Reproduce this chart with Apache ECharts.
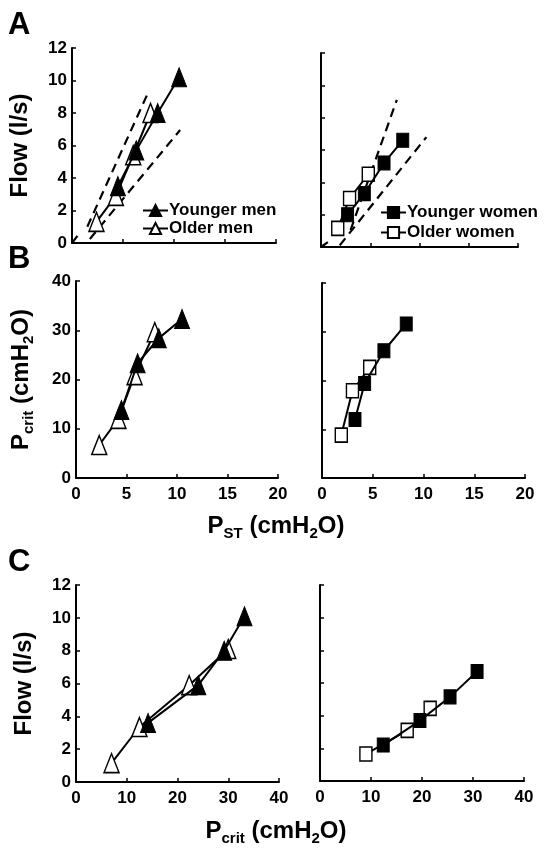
<!DOCTYPE html>
<html>
<head>
<meta charset="utf-8">
<script src="https://cdn.jsdelivr.net/npm/echarts@6/dist/echarts.min.js"></script>
<style>
  html, body { margin: 0; padding: 0; background: #fff; }
  #main { width: 552px; height: 849px; }
</style>
</head>
<body>
<div id="main"></div>
<script>
// A: P_ST (x) vs flow (y)
var youngMenA = [[4.5, 3.5], [6.3, 5.7], [8.4, 8.0], [10.5, 10.2]];
var oldMenA = [[2.4, 1.3], [4.3, 2.9], [6.0, 5.4], [7.7, 8.0]];
var youngWomenA = [[2.7, 2.0], [4.4, 3.3], [6.4, 5.2], [8.3, 6.6]];
var oldWomenA = [[1.7, 1.15], [2.9, 3.0], [4.8, 4.5]];
// dashed reference lines in A
var dashMenA = [
  [[1.5, 1.0], [7.35, 9.1]],
  [[1.75, 0.25], [10.6, 6.95]],
  [[0, 0], [0.55, 0.45]]
];
var dashWomenA = [
  [[3.0, 1.05], [7.7, 9.1]],
  [[1.9, 0.1], [10.7, 6.8]],
  [[0, 0], [0.7, 0.3]]
];
// B: P_ST (x) vs Pcrit (y)
var youngMenB = [[4.5, 13.8], [6.1, 23.3], [8.2, 28.4], [10.5, 32.3]];
var oldMenB = [[2.3, 6.7], [4.2, 12.0], [5.8, 20.9], [7.8, 29.6]];
var youngWomenB = [[3.25, 12.0], [4.2, 19.4], [6.1, 26.1], [8.3, 31.6]];
var oldWomenB = [[1.9, 8.8], [3.0, 17.9], [4.7, 22.7]];
// C: Pcrit (x) vs flow (y)
var youngMenC = [[14.2, 3.6], [24.1, 5.9], [29.2, 8.0], [33.2, 10.1]];
var oldMenC = [[7.0, 1.15], [12.5, 3.35], [22.3, 5.9], [30.0, 8.1]];
var youngWomenC = [[12.4, 2.2], [19.6, 3.7], [25.5, 5.15], [30.8, 6.7]];
var oldWomenC = [[9.0, 1.65], [17.1, 3.1], [21.6, 4.45]];

var legendMen = ['Younger men', 'Older men'];
var legendWomen = ['Younger women', 'Older women'];

var FONT = 'Liberation Sans, Arial, Helvetica, sans-serif';
var chart = echarts.init(document.getElementById('main'));

var grids = [
  { left: 72, top: 48, width: 204, height: 195 },   // A left
  { left: 321, top: 53, width: 197, height: 194 },  // A right
  { left: 76, top: 281, width: 202, height: 197 },  // B left
  { left: 322, top: 283, width: 203, height: 195 }, // B right
  { left: 76, top: 585, width: 203, height: 197 },  // C left
  { left: 320, top: 585, width: 204, height: 196 }  // C right
];

var richName = {
  p: { fontSize: 24, fontWeight: 'bold', fontFamily: FONT, color: '#000', lineHeight: 30 },
  s: { fontSize: 15, fontWeight: 'bold', fontFamily: FONT, color: '#000', verticalAlign: 'bottom' }
};

function makeX(gi, max, interval, labels) {
  return {
    type: 'value', gridIndex: gi, min: 0, max: max, interval: interval,
    axisLine: { lineStyle: { color: '#000', width: 2 } },
    axisTick: { inside: true, length: 4, lineStyle: { color: '#000', width: 1.5 } },
    splitLine: { show: false },
    axisLabel: { show: labels, color: '#000', fontSize: 17, fontWeight: 'bold', fontFamily: FONT, margin: 8 }
  };
}

function makeY(gi, max, interval, labels, name, gap) {
  return {
    type: 'value', gridIndex: gi, min: 0, max: max, interval: interval,
    axisLine: { show: true, lineStyle: { color: '#000', width: 2 } },
    axisTick: { show: true, inside: true, length: 4, lineStyle: { color: '#000', width: 1.5 } },
    splitLine: { show: false },
    axisLabel: { show: labels, color: '#000', fontSize: 17, fontWeight: 'bold', fontFamily: FONT, margin: 5 },
    name: name || '',
    nameLocation: 'middle',
    nameRotate: 90,
    nameGap: gap || 30,
    nameTextStyle: { rich: richName }
  };
}

function marks(name, data, gi, symbol, filled) {
  var size = symbol === 'triangle' ? [15, 19] : [12, 14];
  return {
    name: name, type: 'line', data: data,
    xAxisIndex: gi, yAxisIndex: gi,
    symbol: symbol, symbolSize: size,
    lineStyle: { color: '#000', width: 2 },
    itemStyle: filled
      ? { color: '#000', borderColor: '#000', borderWidth: 1 }
      : { color: '#fff', borderColor: '#000', borderWidth: 1.5 },
    z: filled ? 4 : 3
  };
}

function dashes(list, gi) {
  return list.map(function (d) {
    return {
      type: 'line', data: d, xAxisIndex: gi, yAxisIndex: gi,
      symbol: 'none', silent: true,
      lineStyle: { color: '#000', width: 2.2, type: [9, 6] },
      z: 2
    };
  });
}

var series = []
  .concat(dashes(dashMenA, 0))
  .concat(dashes(dashWomenA, 1))
  .concat([
    marks('Older men', oldMenA, 0, 'triangle', false),
    marks('Younger men', youngMenA, 0, 'triangle', true),
    marks('Older women', oldWomenA, 1, 'rect', false),
    marks('Younger women', youngWomenA, 1, 'rect', true),
    marks('Older men', oldMenB, 2, 'triangle', false),
    marks('Younger men', youngMenB, 2, 'triangle', true),
    marks('Older women', oldWomenB, 3, 'rect', false),
    marks('Younger women', youngWomenB, 3, 'rect', true),
    marks('Older men', oldMenC, 4, 'triangle', false),
    marks('Younger men', youngMenC, 4, 'triangle', true),
    marks('Older women', oldWomenC, 5, 'rect', false),
    marks('Younger women', youngWomenC, 5, 'rect', true)
  ]);

function letter(txt, top) {
  return { text: txt, left: 8, top: top, padding: 0,
    textStyle: { fontSize: 31, fontWeight: 'bold', fontFamily: FONT, color: '#000' } };
}

var option = {
  animation: false,
  backgroundColor: '#fff',
  title: [
    letter('A', 10),
    letter('B', 244),
    letter('C', 547),
    {
      text: '{p|P}{s|ST}{p| (cmH}{s|2}{p|O)}', left: 'center', top: 511, padding: 0,
      textStyle: { rich: richName }
    },
    {
      text: '{p|P}{s|crit}{p| (cmH}{s|2}{p|O)}', left: 'center', top: 816, padding: 0,
      textStyle: { rich: richName }
    }
  ],
  legend: [
    {
      data: legendMen, orient: 'vertical', left: 142, top: 202, padding: 0,
      itemGap: 1, itemWidth: 25, itemHeight: 14, selectedMode: false,
      textStyle: { fontSize: 17, fontWeight: 'bold', fontFamily: FONT, color: '#000', padding: [0, 0, 0, -4] }
    },
    {
      data: legendWomen, orient: 'vertical', left: 380, top: 204, padding: 0,
      itemGap: 3, itemWidth: 25, itemHeight: 14, selectedMode: false,
      textStyle: { fontSize: 17, fontWeight: 'bold', fontFamily: FONT, color: '#000', padding: [0, 0, 0, -4] }
    }
  ],
  grid: grids,
  xAxis: [
    makeX(0, 20, 5, false),
    makeX(1, 20, 5, false),
    makeX(2, 20, 5, true),
    makeX(3, 20, 5, true),
    makeX(4, 40, 10, true),
    makeX(5, 40, 10, true)
  ],
  yAxis: [
    makeY(0, 12, 2, true, '{p|Flow (l/s)}', 37),
    makeY(1, 12, 2, false),
    makeY(2, 40, 10, true, '{p|P}{s|crit}{p| (cmH}{s|2}{p|O)}', 40),
    makeY(3, 40, 10, false),
    makeY(4, 12, 2, true, '{p|Flow (l/s)}', 37),
    makeY(5, 12, 2, false)
  ],
  series: series
};

chart.setOption(option);
</script>
</body>
</html>
